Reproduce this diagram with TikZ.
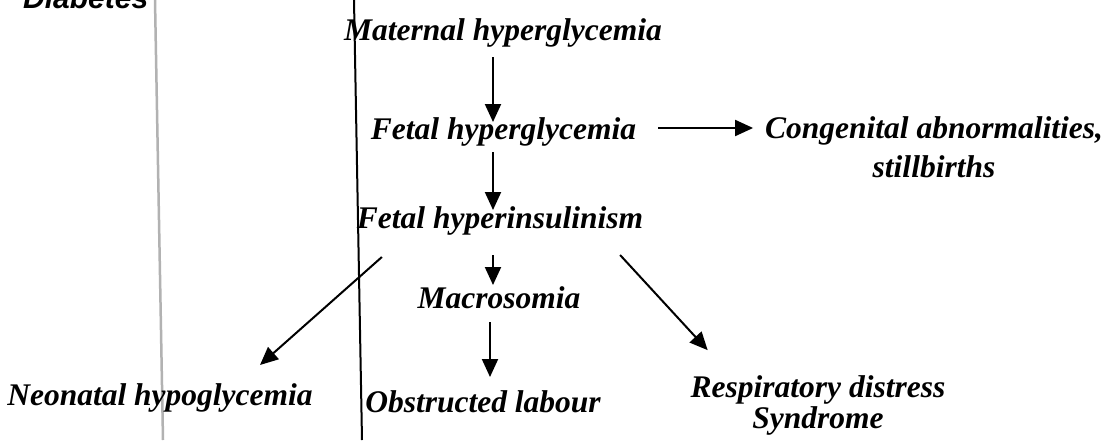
\documentclass[tikz,border=0pt]{standalone}
\usepackage{fontspec}
\setmainfont{Liberation Serif}
\newfontfamily\dsans{Liberation Sans}
\usetikzlibrary{arrows.meta}
\begin{document}
\begin{tikzpicture}[x=1pt,y=-1pt,
  lbl/.style={font=\fontsize{31.5}{39}\selectfont\bfseries\itshape, inner sep=0pt, outer sep=0pt, text height=22pt, text depth=7pt, anchor=base},
  lbltwo/.style={font=\fontsize{31.5}{39}\selectfont\bfseries\itshape, inner sep=0pt, outer sep=0pt, align=center, anchor=base},
  arr/.style={line width=2pt, -{Triangle[length=18pt,width=16pt]}},
  sep/.style={line width=2pt},
]
\clip (0,0) rectangle (1120,440);
\fill[white] (0,0) rectangle (1120,440);
\node[font=\dsans\fontsize{30}{36}\selectfont\bfseries\itshape, anchor=base west, inner sep=0pt] (dia) at (23,8) {Diabetes};
\coordinate (g1) at (155,0); \coordinate (g2) at (163,440);
\draw[sep, gray!60, line width=2.5pt] (g1) -- (g2);
\coordinate (k1) at (354,0); \coordinate (k2) at (362,440);
\draw[sep, black] (k1) -- (k2);

\node[lbl] (mat) at (503,40) {Maternal hyperglycemia};
\node[lbl] (fhg) at (503.5,139) {Fetal hyperglycemia};
\node[lbltwo] (cong) at (934,177) {Congenital abnormalities,\\stillbirths};
\node[lbl] (fhi) at (500,228) {Fetal hyperinsulinism};
\node[lbl] (mac) at (499,308) {Macrosomia};
\node[lbl] (obs) at (483,412) {Obstructed labour};
\node[lbl] (neo) at (160,405) {Neonatal hypoglycemia};
\node[lbltwo, font=\fontsize{31.5}{31}\selectfont\bfseries\itshape] (resp) at (818,428) {Respiratory distress\\Syndrome};

\coordinate (ax) at (493,0);
\coordinate (bx) at (490,0);
\coordinate (hy) at (0,128);
\draw[arr, shorten <=10pt, shorten >=-5pt] (mat.south -| ax) -- (fhg.north -| ax);
\draw[arr, shorten <=6pt, shorten >=-4pt] (fhg.south -| ax) -- (fhi.north -| ax);
\draw[arr, shorten <=20pt, shorten >=1pt] (fhi.south -| ax) -- (mac.north -| ax);
\draw[arr, shorten <=7pt, shorten >=13pt] (mac.south -| bx) -- (obs.north -| bx);
\draw[arr, shorten <=22pt, shorten >=12pt] (fhg.east |- hy) -- (cong.west |- hy);
\draw[arr] ([xshift=25pt,yshift=-22pt]fhi.south west) -- ([xshift=100pt,yshift=18pt]neo.north);
\draw[arr] ([xshift=-23pt,yshift=-20pt]fhi.south east) -- ([xshift=17pt,yshift=25pt]resp.north west);
\end{tikzpicture}
\end{document}
